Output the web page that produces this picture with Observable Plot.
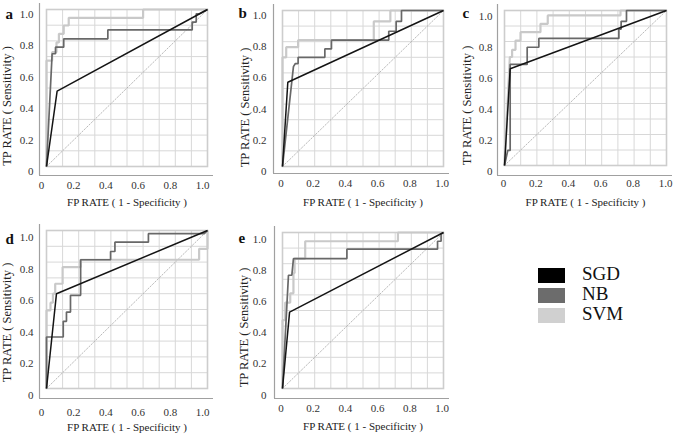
<!DOCTYPE html>
<html><head><meta charset="utf-8">
<script src="https://cdn.jsdelivr.net/npm/d3@7"></script>
<script src="https://cdn.jsdelivr.net/npm/@observablehq/plot@0.6"></script>
<style>
html,body{margin:0;padding:0;background:#fff;}
#chart{position:relative;width:676px;height:435px;overflow:hidden;font-family:"Liberation Serif","Times New Roman",serif;}
#chart svg{position:absolute;overflow:visible;}
#chart svg text{font-family:"Liberation Serif","Times New Roman",serif;}
.lg{position:absolute;left:538px;font-size:19px;color:#111;line-height:1;}
.lg span.sw{position:absolute;left:0;width:27px;height:15px;}
.lg span.tx{position:absolute;left:44px;top:-4px;white-space:nowrap;}
</style></head><body><div id="chart"></div>
<script>
// ---- data ----
const series = ["SGD", "NB", "SVM"];
const lineColors = ["#141414", "#686868", "#c9c9c9"];
const legendColors = ["#000000", "#6c6c6c", "#d0d0d0"];
const xTicks = [0, 0.2, 0.4, 0.6, 0.8, 1.0];
const yTicks = [0, 0.2, 0.4, 0.6, 0.8, 1.0];
const panelLetters = ["a", "b", "c", "d", "e"];
const xTitle = "FP RATE ( 1 - Specificity )";
const yTitle = "TP RATE ( Sensitivity )";
const diagonal = [[0, 0], [1, 1]];

const aSGD = [[0,0],[0.066,0.48],[1,1]];
const aNB  = [[0,0],[0.035,0.718],[0.056,0.718],[0.056,0.76],[0.107,0.76],[0.107,0.813],[0.381,0.813],[0.381,0.87],[0.905,0.87],[0.905,0.92],[0.93,0.92],[0.93,0.973],[0.95,0.973],[1,1]];
const aSVM = [[0,0],[0,0.675],[0.035,0.675],[0.035,0.728],[0.062,0.728],[0.062,0.79],[0.077,0.79],[0.077,0.845],[0.107,0.845],[0.107,0.898],[0.138,0.898],[0.138,0.947],[0.6,0.947],[0.6,1],[1,1]];

const bSGD = [[0,0],[0.033,0.54],[1,1]];
const bNB  = [[0,0],[0.068,0.64],[0.08,0.66],[0.097,0.66],[0.097,0.70],[0.263,0.70],[0.263,0.754],[0.304,0.754],[0.304,0.81],[0.66,0.81],[0.66,0.867],[0.706,0.867],[0.706,0.93],[0.739,0.93],[0.739,1],[1,1]];
const bSVM = [[0,0],[0,0.70],[0.023,0.70],[0.023,0.765],[0.097,0.765],[0.097,0.81],[0.567,0.81],[0.567,0.93],[0.67,0.93],[0.67,1],[1,1]];

const cSGD = [[0,0],[0.035,0.624],[1,1]];
const cNB  = [[0,0],[0.02,0.097],[0.035,0.097],[0.035,0.652],[0.14,0.652],[0.14,0.763],[0.212,0.763],[0.212,0.82],[0.706,0.82],[0.706,0.88],[0.72,0.88],[0.72,0.93],[0.753,0.93],[0.753,1],[1,1]];
const cSVM = [[0,0],[0.033,0.70],[0.047,0.70],[0.047,0.746],[0.068,0.746],[0.068,0.806],[0.099,0.806],[0.099,0.86],[0.222,0.86],[0.222,0.914],[0.267,0.914],[0.267,0.968],[0.716,0.968],[0.716,1],[1,1]];

const dSGD = [[0,0],[0.062,0.60],[1,1]];
const dNB  = [[0,0],[0,0.326],[0.104,0.326],[0.104,0.425],[0.124,0.425],[0.124,0.484],[0.149,0.484],[0.149,0.59],[0.212,0.59],[0.212,0.815],[0.398,0.815],[0.398,0.867],[0.425,0.867],[0.425,0.926],[0.633,0.926],[0.633,0.98],[0.98,0.98],[1,1]];
const dSVM = [[0,0],[0,0.495],[0.025,0.495],[0.025,0.543],[0.04,0.543],[0.04,0.6],[0.054,0.6],[0.054,0.663],[0.1,0.663],[0.1,0.768],[0.212,0.768],[0.212,0.815],[0.948,0.815],[0.948,0.884],[1,0.884],[1,1]];

const eSGD = [[0,0],[0.044,0.49],[1,1]];
const eNB  = [[0,0],[0.037,0.726],[0.058,0.726],[0.068,0.833],[0.4,0.833],[0.4,0.893],[0.963,0.893],[0.963,0.944],[0.985,0.944],[0.985,0.99],[1,1]];
const eSVM = [[0,0],[0,0.438],[0.017,0.438],[0.017,0.551],[0.048,0.551],[0.048,0.61],[0.068,0.61],[0.068,0.74],[0.075,0.74],[0.075,0.833],[0.141,0.833],[0.141,0.944],[0.717,0.944],[0.717,1],[1,1]];

const panelCurves = [[aSGD,aNB,aSVM],[bSGD,bNB,bSVM],[cSGD,cNB,cSVM],[dSGD,dNB,dSVM],[eSGD,eNB,eSVM]];

// ---- layout ----
const FONT = '"Liberation Serif","Times New Roman",serif';
const ML = 50, MR = 8, MT = 12, MB = 48;
const layout = [
  {L:46,  T:9,   R:207, B:166, ax:7, ay:9,  xdx:-5,   xpad:15, xt:36, ydy:5,   ypad:13, ytx:-40, yt:18,   ldx:-41, ldy:9},
  {L:282, T:10,  R:443, B:166, ax:9, ay:7,  xdx:-1.5, xpad:13, xt:36, ydy:5,   ypad:16, ytx:-38, yt:19,   ldx:-44, ldy:7},
  {L:504, T:10,  R:666, B:165, ax:7, ay:10, xdx:-1,   xpad:14, xt:37, ydy:5.5, ypad:12, ytx:-38, yt:17.5, ldx:-42, ldy:7},
  {L:46,  T:230, R:207, B:388, ax:7, ay:10, xdx:-5,   xpad:20, xt:39, ydy:7,   ypad:13, ytx:-40, yt:13,   ldx:-41, ldy:13},
  {L:282, T:232, R:443, B:388, ax:8, ay:10, xdx:-1.5, xpad:16, xt:38, ydy:6.5, ypad:16, ytx:-39, yt:17,   ldx:-44, ldy:10}
];

const fmt = d => d === 0 ? "0" : d3.format(".1f")(d);
const chart = document.getElementById("chart");

layout.forEach((p, i) => {
  const rows = [];
  series.forEach((s, k) => panelCurves[i][k].forEach(([x, y]) => rows.push({series: s, x, y})));
  const bySeries = s => rows.filter(d => d.series === s);
  const svg = Plot.plot({
    width: (p.R - p.L) + ML + MR,
    height: (p.B - p.T) + MT + MB,
    marginLeft: ML, marginRight: MR, marginTop: MT, marginBottom: MB,
    x: {domain: [0, 1], label: null},
    y: {domain: [0, 1], label: null},
    style: {fontFamily: FONT, fontSize: "11px", color: "#333", background: "transparent", overflow: "visible"},
    marks: [
      Plot.gridX({ticks: 10, stroke: "#d8d8d8", strokeOpacity: 1, strokeWidth: 1}),
      Plot.gridY({ticks: 10, stroke: "#d8d8d8", strokeOpacity: 1, strokeWidth: 1}),
      Plot.frame({stroke: "#cdcdcd", strokeWidth: 1.6}),
      Plot.ruleX([0], {dx: -p.ax, insetTop: -6, insetBottom: -p.ay, stroke: "#a0a0a0", strokeWidth: 1.2}),
      Plot.ruleY([0], {dy: p.ay, insetLeft: -p.ax, insetRight: -6, stroke: "#a0a0a0", strokeWidth: 1.2}),
      Plot.line(diagonal, {x: d => d[0], y: d => d[1], stroke: "#a8a8a8", strokeWidth: 0.8, strokeDasharray: "1.5,1.8"}),
      Plot.line(bySeries("SVM"), {x: "x", y: "y", stroke: lineColors[2], strokeWidth: 2.2, strokeLinejoin: "miter", strokeLinecap: "butt"}),
      Plot.line(bySeries("NB"), {x: "x", y: "y", stroke: lineColors[1], strokeWidth: 1.7, strokeLinejoin: "miter", strokeLinecap: "butt"}),
      Plot.line(bySeries("SGD"), {x: "x", y: "y", stroke: lineColors[0], strokeWidth: 1.5, strokeLinejoin: "miter", strokeLinecap: "butt"}),
      Plot.axisX({ticks: xTicks, tickSize: 0, tickPadding: p.xpad, tickFormat: fmt, dx: p.xdx, label: null, fill: "#333", fontFamily: FONT, fontSize: 11}),
      Plot.axisY({ticks: yTicks, tickSize: 0, tickPadding: p.ypad, tickFormat: fmt, dy: p.ydy, label: null, fill: "#333", fontFamily: FONT, fontSize: 11}),
      Plot.text([xTitle], {frameAnchor: "bottom", dy: p.xt, fontSize: 11, textAnchor: "middle", lineAnchor: "middle", fill: "#222", fontFamily: FONT}),
      Plot.text([yTitle], {frameAnchor: "left", dx: p.ytx, dy: p.yt, rotate: -90, fontSize: 12.5, textAnchor: "middle", lineAnchor: "middle", fill: "#222", fontFamily: FONT}),
      Plot.text([panelLetters[i]], {frameAnchor: "top-left", dx: p.ldx, dy: p.ldy, textAnchor: "start", lineAnchor: "bottom", fontSize: 15, fontWeight: "bold", fill: "#111", fontFamily: FONT})
    ]
  });
  svg.style.left = (p.L - ML) + "px";
  svg.style.top = (p.T - MT) + "px";
  chart.appendChild(svg);
});

// legend
const lgTops = [268, 288, 308];
series.forEach((s, k) => {
  const d = document.createElement("div");
  d.className = "lg";
  d.style.top = lgTops[k] + "px";
  d.innerHTML = `<span class="sw" style="background:${legendColors[k]}"></span><span class="tx">${s}</span>`;
  chart.appendChild(d);
});
</script></body></html>
